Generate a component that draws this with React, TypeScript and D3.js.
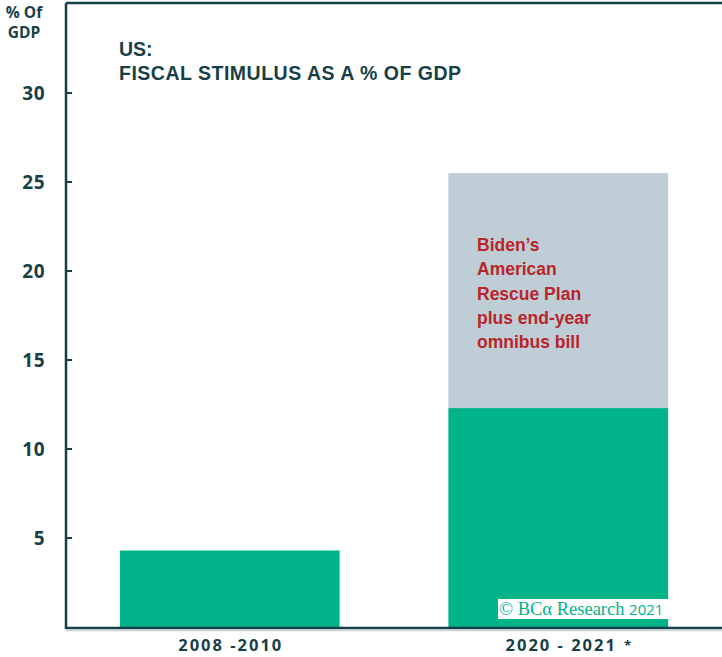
import React from "react";
import * as d3 from "d3";

const categories = ["2008 -2010", "2020 - 2021"];
const baseValues = [4.3, 12.3];
const topValues = [0, 13.2];
const yTicks = [5, 10, 15, 20, 25, 30];
const annotationLines = ["Biden’s", "American", "Rescue Plan", "plus end-year", "omnibus bill"];

const W = 722;
const H = 657;
const DARK = "#173f48";
const GREEN = "#01b388";
const GREY = "#bfcdd6";
const RED = "#b8252b";

export default function App() {
  const left = 66;
  const right = 722;
  const y = d3.scaleLinear().domain([0, 30]).range([627, 93]);
  const x = d3.scaleBand<string>().domain(categories).range([left, right]).paddingInner(0.331).paddingOuter(0.164);
  const bw = x.bandwidth();
  const font = "'Open Sans', sans-serif";
  const sans = "'Liberation Sans', Arial, sans-serif";
  return (
    <svg width={W} height={H} style={{ position: "absolute", left: 0, top: 0 }}>
      <rect width={W} height={H} fill="#fff" />
      {categories.map((c, i) => (
        <g key={c}>
          <rect x={x(c)} y={y(baseValues[i])} width={bw} height={y(0) - y(baseValues[i])} fill={GREEN} />
          {topValues[i] > 0 && (
            <rect x={x(c)} y={y(baseValues[i] + topValues[i])} width={bw}
              height={y(baseValues[i]) - y(baseValues[i] + topValues[i])} fill={GREY} />
          )}
        </g>
      ))}
      {/* axes */}
      <line x1={left} x2={left} y1={3} y2={629} stroke={DARK} strokeWidth={2.5} />
      <line x1={left} x2={right} y1={3} y2={3} stroke={DARK} strokeWidth={2.5} />
      <line x1={left} x2={right} y1={628} y2={628} stroke={DARK} strokeWidth={2.5} />
      <line x1={left} x2={right} y1={630.5} y2={630.5} stroke="#c8d3da" strokeWidth={1.5} />
      {yTicks.map((t) => (
        <g key={t}>
          <line x1={left} x2={left + 6} y1={y(t)} y2={y(t)} stroke={DARK} strokeWidth={2} />
          <text x={45} y={y(t) + 7} textAnchor="end" fontFamily={font} fontWeight={700} fontSize={19} letterSpacing={0.5} fill={DARK}>{t}</text>
        </g>
      ))}
      <text x={24} y={18} textAnchor="middle" fontFamily={font} fontWeight={700} fontSize={15.5} fill={DARK}>% Of</text>
      <text x={24} y={38} textAnchor="middle" fontFamily={font} fontWeight={700} fontSize={15.5} fill={DARK}>GDP</text>
      <text x={119} y={56} fontFamily={sans} fontWeight={700} fontSize={19.5} fill={DARK}>US:</text>
      <text x={119} y={80} fontFamily={sans} fontWeight={700} fontSize={19.5} textLength={342} lengthAdjust="spacing" fill={DARK}>FISCAL STIMULUS AS A % OF GDP</text>
      {annotationLines.map((l, i) => (
        <text key={l} x={477} y={251 + i * 24.3} fontFamily={sans} fontWeight={700} fontSize={17.5} fill={RED}>{l}</text>
      ))}
      {categories.map((c, i) => (
        <text key={c} x={x(c)! + bw / 2 + (i === 1 ? 3 : 1)} y={651} textAnchor="middle" fontFamily={font} fontWeight={700} fontSize={16.5} letterSpacing={2} fill={DARK}>
          {c}
        </text>
      ))}
      <text x={624} y={650} fontFamily={font} fontWeight={700} fontSize={13} fill={DARK}>*</text>
      <rect x={498} y={599} width={171} height={20} fill="#fff" />
      <text x={499} y={615} fontFamily="'Liberation Serif', 'Times New Roman', serif" fontSize={18.5} fill={GREEN}>
        © BCα Research <tspan fontFamily={font} fontSize={15}>2021</tspan>
      </text>
    </svg>
  );
}
